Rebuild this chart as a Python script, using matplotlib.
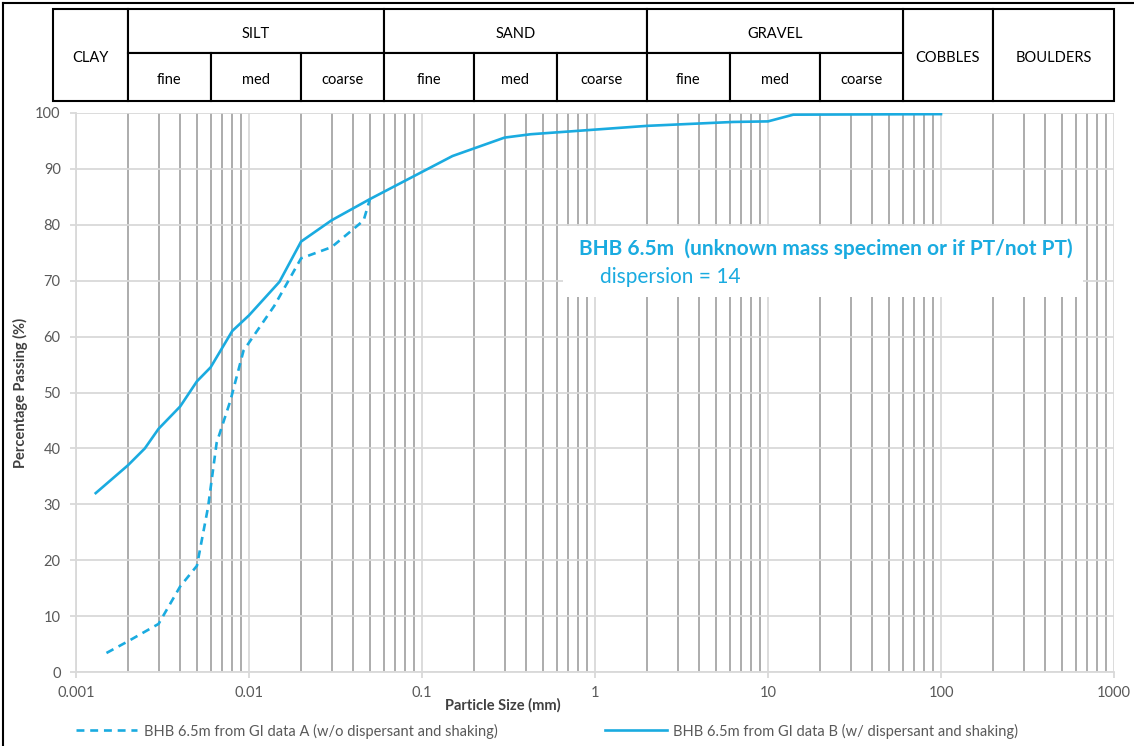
import matplotlib
matplotlib.use("Agg")
import matplotlib.pyplot as plt
from matplotlib.patches import Rectangle
from matplotlib.lines import Line2D
from matplotlib.transforms import blended_transform_factory
from matplotlib.ticker import FixedLocator, FixedFormatter, LogLocator, NullFormatter

plt.rcParams['font.family'] = ['Lato', 'DejaVu Sans']

# sieve / hydrometer data (size in mm, % passing)
size_a = [0.0015, 0.002, 0.003, 0.004, 0.005, 0.0058, 0.0065, 0.0078, 0.0093,
          0.014, 0.02, 0.03, 0.04, 0.046, 0.05]
pass_a = [3.4, 5.5, 8.6, 15.3, 19.0, 29.5, 41.0, 48.5, 57.5,
          65.5, 74.0, 76.0, 79.2, 80.8, 84.6]

size_b = [0.0013, 0.002, 0.0025, 0.003, 0.004, 0.005, 0.006, 0.008, 0.01,
          0.015, 0.02, 0.03, 0.05, 0.15, 0.3, 0.425, 2, 6.3, 10, 14, 100]
pass_b = [32.0, 37.0, 40.0, 43.5, 47.5, 52.0, 54.5, 61.0, 63.8,
          69.8, 77.0, 80.8, 84.6, 92.3, 95.6, 96.2, 97.7, 98.4, 98.5, 99.7, 99.8]

label_a = "BHB 6.5m from GI data A (w/o dispersant and shaking)"
label_b = "BHB 6.5m from GI data B (w/ dispersant and shaking)"

x_ticks = [0.001, 0.01, 0.1, 1, 10, 100, 1000]
x_tick_labels = ["0.001", "0.01", "0.1", "1", "10", "100", "1000"]
y_ticks = list(range(0, 101, 10))

# soil classification header (BS grading limits, mm)
main_classes = ["SILT", "SAND", "GRAVEL"]
main_limits = [(0.002, 0.06), (0.06, 2), (2, 60)]
sub_classes = ["fine", "med", "coarse"]
sub_limits = [[0.002, 0.006, 0.02, 0.06], [0.06, 0.2, 0.6, 2], [2, 6, 20, 60]]
full_classes = ["CLAY", "COBBLES", "BOULDERS"]
full_limits = [(0.00074, 0.002), (60, 200), (200, 1000)]

title_main = "BHB 6.5m  (unknown mass specimen or if PT/not PT)"
title_sub = "dispersion = 14"

W, H = 1134, 746
blue = '#1AABE0'
grey_txt = '#595959'

fig = plt.figure(figsize=(W / 100, H / 100), dpi=100)
ax = fig.add_axes([76 / W, 1 - 672 / H, (1114 - 76) / W, (672 - 113) / H])

ax.plot(size_a, pass_a, color=blue, lw=1.9, ls=(0, (3, 2.2)), label=label_a, zorder=3)
ax.plot(size_b, pass_b, color=blue, lw=1.9, label=label_b, zorder=3)

ax.set_xscale('log')
ax.set_xlim(0.001, 1000)
ax.set_ylim(0, 100)
ax.xaxis.set_major_locator(FixedLocator(x_ticks))
ax.xaxis.set_major_formatter(FixedFormatter(x_tick_labels))
ax.xaxis.set_minor_locator(LogLocator(base=10, subs=range(2, 10), numticks=20))
ax.xaxis.set_minor_formatter(NullFormatter())
ax.set_yticks(y_ticks)

ax.grid(which='major', axis='both', color='#d9d9d9', lw=1.3, zorder=0)
ax.grid(which='minor', axis='x', color='#a6a6a6', lw=1.3, zorder=0)
ax.set_axisbelow(True)
for s in ['top', 'right']:
    ax.spines[s].set_visible(False)
for s in ['left', 'bottom']:
    ax.spines[s].set_color('#d9d9d9')
    ax.spines[s].set_linewidth(1.3)
ax.tick_params(axis='both', which='major', length=4, color='#d9d9d9', width=1.3,
               labelsize=10.5, labelcolor=grey_txt)
ax.tick_params(axis='x', which='major', pad=6)
ax.tick_params(axis='y', which='major', pad=7)
ax.tick_params(axis='x', which='minor', length=0)

ax.set_xlabel("Particle Size (mm)", fontsize=10.5, fontweight='bold', color='#404040')
ax.xaxis.set_label_coords((503 - 76) / 1038, (672 - 698) / 559)
ax.set_ylabel("Percentage Passing (%)", fontsize=10.5, fontweight='bold', color='#404040')
ax.yaxis.set_label_coords((28 - 76) / 1038, 0.5)

# annotation box
ax.add_patch(Rectangle((0.469, 0.671), 0.501, 0.127, transform=ax.transAxes,
                       facecolor='white', edgecolor='none', zorder=2))
ax.text(0.4846, 0.757, title_main, transform=ax.transAxes, color=blue,
        fontsize=15, fontweight='bold', va='center', ha='left', zorder=4)
ax.text(0.505, 0.7066, title_sub, transform=ax.transAxes, color=blue,
        fontsize=15, va='center', ha='left', zorder=4)

# classification header above the plot
tr = blended_transform_factory(ax.transData, fig.transFigure)
top, mid, bot = 1 - 9 / H, 1 - 53 / H, 1 - 101 / H
dy = 3 / H
box_kw = dict(transform=tr, facecolor='white', edgecolor='black', lw=1.5, clip_on=False)

for name, (x0, x1) in zip(full_classes, full_limits):
    ax.add_patch(Rectangle((x0, bot), x1 - x0, top - bot, **box_kw))
    ax.text((x0 * x1) ** 0.5, (top + bot) / 2 - dy, name, transform=tr,
            ha='center', va='center', fontsize=10.5, clip_on=False)

for name, (x0, x1), subs in zip(main_classes, main_limits, sub_limits):
    ax.add_patch(Rectangle((x0, mid), x1 - x0, top - mid, **box_kw))
    ax.text((x0 * x1) ** 0.5, (top + mid) / 2 - dy, name, transform=tr,
            ha='center', va='center', fontsize=10.5, clip_on=False)
    for sname, s0, s1 in zip(sub_classes, subs[:-1], subs[1:]):
        ax.add_patch(Rectangle((s0, bot), s1 - s0, mid - bot, **box_kw))
        ax.text((s0 * s1) ** 0.5, (mid + bot) / 2 - dy, sname, transform=tr,
                ha='center', va='center', fontsize=10.5, clip_on=False)

# outer frame (top and left edges of the original image)
fig.add_artist(Line2D([3 / W, 3 / W], [0, 1 - 3 / H], color='black', lw=1.5))
fig.add_artist(Line2D([3 / W, 1], [1 - 3 / H, 1 - 3 / H], color='black', lw=1.5))

handles, labels = ax.get_legend_handles_labels()
fig.legend(handles, labels, loc='center left', bbox_to_anchor=(76 / W, 1 - 731 / H),
           ncol=2, frameon=False, fontsize=10.5, handlelength=4.2, handletextpad=0.45,
           columnspacing=7.4, borderpad=0, borderaxespad=0, labelcolor=grey_txt)

fig.savefig('out.png', dpi=100)
